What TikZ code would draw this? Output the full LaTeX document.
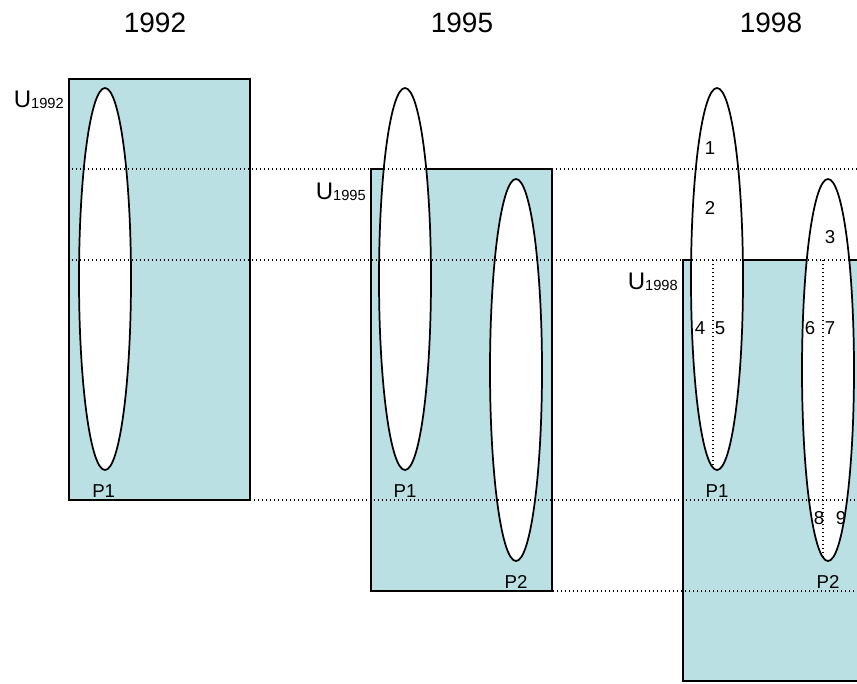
\documentclass[tikz,border=0pt]{standalone}
\usepackage{fontspec}
\setmainfont{Liberation Sans}
\usepackage{tikz}
\usetikzlibrary{positioning,shapes.geometric}
\definecolor{poolblue}{RGB}{187,224,227}

\begin{document}
\begin{tikzpicture}[
x=0.75pt, y=-0.75pt,
area/.style={draw=black, line width=1.3pt, fill=poolblue},
pool/.style={ellipse, draw=black, line width=1.3pt, fill=white, minimum width=39pt, minimum height=286.5pt, inner sep=0pt},
guide/.style={dotted, line width=1pt},
year/.style={inner sep=0pt, font=\fontsize{21}{25}\selectfont},
ulab/.style={anchor=base east, inner sep=0pt, font=\fontsize{18}{22}\selectfont},
num/.style={inner sep=0pt, font=\fontsize{14}{17}\selectfont}
]
\useasboundingbox (0,0) rectangle (857,683);
\clip (0,0) rectangle (857,683);

% years
\node[year] (y92) at (155,23) {1992};
\node[year] (y95) at (462,23) {1995};
\node[year] (y98) at (771,23) {1998};

% universes
\draw[area] (69,79) rectangle (250,500);
\draw[area] (371,169) rectangle (552,591);
\draw[area] (683,260) rectangle (880,681);
\node[ulab] (u92) at (64,107) {U\raisebox{-1pt}{\fontsize{11}{13}\selectfont 1992}};
\node[ulab] (u95) at (366,199) {U\raisebox{-1pt}{\fontsize{11}{13}\selectfont 1995}};
\node[ulab] (u98) at (678,289) {U\raisebox{-1pt}{\fontsize{11}{13}\selectfont 1998}};

% populations
\node[pool] (a92) at (105,279) {};
\node[pool] (a95) at (405,279) {};
\node[pool] (b95) at (516,370) {};
\node[pool] (a98) at (717,279) {};
\node[pool] (b98) at (828,370) {};

\node[num, below=10pt of a92.south, xshift=-1pt] (pa92) {P1};
\node[num, below=10pt of a95.south] (pa95) {P1};
\node[num, below=10pt of b95.south] (pb95) {P2};
\node[num, below=10pt of a98.south] (pa98) {P1};
\node[num, below=10pt of b98.south] (pb98) {P2};

% time cuts
\coordinate (c1) at (72,169);
\coordinate (c2) at (72,260);
\draw[guide] (c1) -- (857,169);
\draw[guide] (c2) -- (857,260);
\draw[guide] (250,500) -- (857,500);
\draw[guide] (553,591) -- (857,591);
\draw[guide] (713,260) -- (713,466);
\draw[guide] (823,260) -- (823,558);

% parts
\node[num] (n1) at (710,148) {1};
\node[num] (n2) at (710,208) {2};
\node[num] (n3) at (830,237) {3};
\node[num] (n4) at (700,328) {4};
\node[num] (n5) at (720,328) {5};
\node[num] (n6) at (810,328) {6};
\node[num] (n7) at (830,328) {7};
\node[num] (n8) at (819,518) {8};
\node[num] (n9) at (841,518) {9};
\end{tikzpicture}
\end{document}
